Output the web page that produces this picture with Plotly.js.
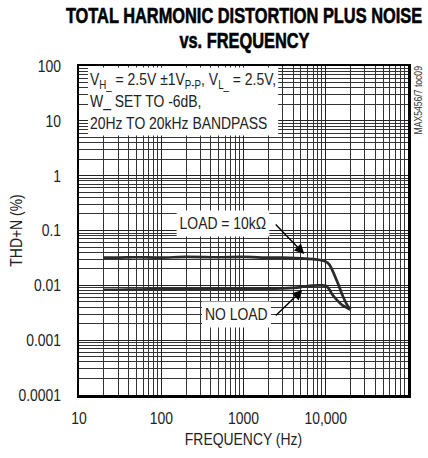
<!DOCTYPE html>
<html>
<head>
<meta charset="utf-8">
<script src="https://cdn.plot.ly/plotly-3.0.1.min.js"></script>
<style>html,body{margin:0;padding:0;background:#fff;}#chart{width:428px;height:458px;}</style>
</head>
<body>
<div id="chart"></div>
<script>
// ---- data ----
const freqLoad = [20, 30, 50, 100, 200, 500, 1000, 2000, 3000, 5000, 7000, 8500, 10000, 11000, 12000, 14000, 16000, 18000, 20000];
const thdLoad  = [0.032, 0.032, 0.0325, 0.032, 0.033, 0.0325, 0.033, 0.032, 0.032, 0.031, 0.030, 0.029, 0.027, 0.024, 0.019, 0.011, 0.0065, 0.0045, 0.0036];

const freqNoLoad = [20, 30, 50, 100, 200, 500, 1000, 2000, 3000, 4000, 5000, 6300, 8000, 9000, 10000, 11000, 12000, 14000, 16000, 20000];
const thdNoLoad  = [0.0083, 0.0083, 0.0084, 0.0085, 0.0085, 0.0086, 0.0086, 0.0087, 0.0088, 0.0090, 0.0093, 0.0098, 0.0100, 0.0100, 0.0098, 0.0085, 0.0068, 0.0052, 0.0043, 0.0036];

const xTickVals = [10, 100, 1000, 10000, 100000];
const xTickText = ['10', '100', '1000', '10,000', '100,000'];
const yTickVals = [0.0001, 0.001, 0.01, 0.1, 1, 10, 100];
const yTickText = ['0.0001', '0.001', '0.01', '0.1', '1', '10', '100'];

// minor grid values (2..9 of each decade)
const xMinor = [];
for (const d of [10, 100, 1000, 10000]) for (let m = 2; m <= 9; m++) xMinor.push(m * d);
const yMinor = [];
for (const d of [0.0001, 0.001, 0.01, 0.1, 1, 10]) for (let m = 2; m <= 9; m++) yMinor.push(m * d);

const FONT = '"Liberation Sans", Arial, Helvetica, sans-serif';
const TXT = '#222';

const lineStyle = {color: '#2a2a2a', width: 2.7, shape: 'spline', smoothing: 0.6};

const traces = [
  {x: freqLoad, y: thdLoad, mode: 'lines', line: lineStyle, hoverinfo: 'skip', showlegend: false},
  {x: freqNoLoad, y: thdNoLoad, mode: 'lines', line: lineStyle, hoverinfo: 'skip', showlegend: false}
];

const layout = {
  width: 428, height: 458,
  margin: {l: 79, r: 20, t: 66, b: 63},
  paper_bgcolor: '#fff', plot_bgcolor: '#fff',
  font: {family: FONT, size: 17, color: TXT},
  title: {
    text: '<b>TOTAL HARMONIC DISTORTION PLUS NOISE</b>',
    font: {family: FONT, size: 22, color: '#000'},
    xref: 'container', yref: 'container',
    x: 244 / 428, xanchor: 'center', y: 1 - 15.5 / 458, yanchor: 'middle'
  },
  xaxis: {
    type: 'log', range: [1, 5],
    tickmode: 'array', tickvals: xTickVals, ticktext: xTickText,
    ticks: '', showgrid: true, gridcolor: '#222', gridwidth: 1.2,
    minor: {tickmode: 'array', tickvals: xMinor, showgrid: true, gridcolor: '#333', gridwidth: 1, ticks: ''},
    showline: true, mirror: true, linecolor: '#000', linewidth: 2.5,
    zeroline: false,
    ticklabelstandoff: 6,
    tickfont: {family: FONT, size: 17, color: TXT},
    title: {text: 'FREQUENCY (Hz)', font: {family: FONT, size: 17, color: TXT}, standoff: 6}
  },
  yaxis: {
    type: 'log', range: [-4, 2],
    tickmode: 'array', tickvals: yTickVals, ticktext: yTickText,
    ticks: '', showgrid: true, gridcolor: '#222', gridwidth: 1.2,
    minor: {tickmode: 'array', tickvals: yMinor, showgrid: true, gridcolor: '#333', gridwidth: 1, ticks: ''},
    showline: true, mirror: true, linecolor: '#000', linewidth: 2.5,
    zeroline: false,
    ticklabelstandoff: 12,
    tickfont: {family: FONT, size: 17, color: TXT},
    title: {text: 'THD+N (%)', font: {family: FONT, size: 17, color: TXT}, standoff: 0}
  },
  annotations: [
    {
      xref: 'paper', yref: 'paper', x: (244 - 79) / 329, y: 1 + (66 - 40.5) / 329,
      xanchor: 'center', yanchor: 'middle', showarrow: false,
      font: {family: FONT, size: 22, color: '#000'}, text: '<b>vs. FREQUENCY</b>'
    },
    {
      xref: 'paper', yref: 'paper', x: (87 - 79) / 329, y: 1 - (67 - 66) / 329, xanchor: 'left', yanchor: 'top',
      align: 'left', showarrow: false, bgcolor: '#fff', borderpad: 2,
      font: {family: FONT, size: 17, color: TXT},
      text: 'V<sub>H_</sub> = 2.5V ±1V<sub>P-P</sub>, V<sub>L_</sub> = 2.5V,<br>W_ SET TO -6dB,<br>20Hz TO 20kHz BANDPASS'
    },
    {
      xref: 'x', yref: 'y', x: Math.log10(556), y: Math.log10(0.137),
      showarrow: false, bgcolor: '#fff', borderpad: 3,
      font: {family: FONT, size: 17, color: TXT}, text: 'LOAD = 10kΩ'
    },
    {
      xref: 'x', yref: 'y', x: Math.log10(5480), y: Math.log10(0.0372),
      text: '', showarrow: true, arrowhead: 2, arrowsize: 1.4, arrowwidth: 1.4, arrowcolor: '#000',
      axref: 'pixel', ayref: 'pixel', ax: -30, ay: -31, standoff: 0
    },
    {
      xref: 'x', yref: 'y', x: Math.log10(822), y: Math.log10(0.0030),
      showarrow: false, bgcolor: '#fff', borderpad: 3,
      font: {family: FONT, size: 17, color: TXT}, text: 'NO LOAD'
    },
    {
      xref: 'x', yref: 'y', x: Math.log10(5190), y: Math.log10(0.0082),
      text: '', showarrow: true, arrowhead: 2, arrowsize: 1.4, arrowwidth: 1.4, arrowcolor: '#000',
      axref: 'pixel', ayref: 'pixel', ax: -28, ay: 27, standoff: 0
    },
    {
      xref: 'paper', yref: 'paper', x: (418 - 79) / 329, y: 1 - (100 - 66) / 329, xanchor: 'center', yanchor: 'middle',
      textangle: -90, showarrow: false,
      font: {family: FONT, size: 10.5, color: '#333'}, text: 'MAX5456/7 toc09'
    }
  ]
};

// The reference uses a condensed Helvetica; no condensed face is installed,
// so the drawn text is narrowed horizontally around its own anchor.
function condense(gd) {
  gd.querySelectorAll('svg text').forEach(t => {
    const bb = t.getBBox();
    if (!bb.width) return;
    const isTitle = t.classList.contains('gtitle') || t.textContent.indexOf('vs. FREQUENCY') === 0;
    const k = isTitle ? 0.745 : 0.82;
    const anchor = getComputedStyle(t).textAnchor || t.getAttribute('text-anchor') || 'start';
    let ax = bb.x;
    if (anchor === 'middle') ax = bb.x + bb.width / 2;
    else if (anchor === 'end') ax = bb.x + bb.width;
    const extra = ' translate(' + ax + ',0) scale(' + k + ',1) translate(' + (-ax) + ',0)';
    let pre = '';
    if (t.classList.contains('ytitle')) pre = 'translate(7,0) ';
    t.setAttribute('transform', pre + (t.getAttribute('transform') || '') + extra);
    if (isTitle) {
      // heavier weight, like the black condensed face of the reference
      t.style.stroke = '#000';
      t.style.strokeWidth = '0.6px';
    }
    const bg = t.parentNode && t.parentNode.querySelector(':scope > rect.bg');
    if (bg) bg.setAttribute('transform', (bg.getAttribute('transform') || '') + extra);
  });
}

Plotly.newPlot('chart', traces, layout, {staticPlot: true, displayModeBar: false})
  .then(gd => condense(gd));
</script>
</body>
</html>
